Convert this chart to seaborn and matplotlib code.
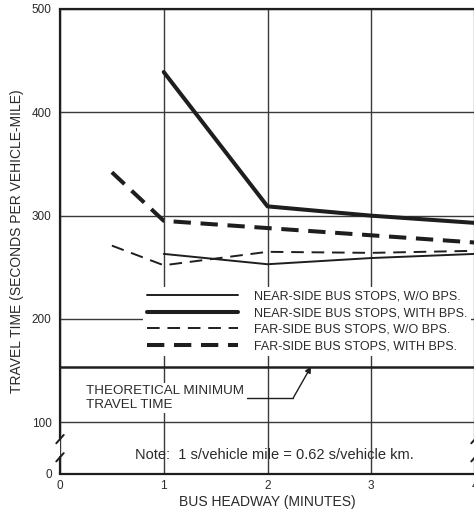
import numpy as np
import pandas as pd
import matplotlib
matplotlib.use("Agg")
import matplotlib.pyplot as plt
import seaborn as sns

# ---- data ----
near_wo_x = [1, 2, 3, 4]
near_wo_y = [263, 253, 259, 263]
near_with_x = [1, 2, 3, 4]
near_with_y = [439, 309, 300, 293]
far_wo_x = [0.5, 1, 2, 3, 4]
far_wo_y = [271, 252, 265, 264, 266]
far_with_x = [0.5, 1, 2, 3, 4]
far_with_y = [342, 295, 288, 281, 274]
theoretical_min = 154

labels = ["NEAR-SIDE BUS STOPS, W/O BPS.",
          "NEAR-SIDE BUS STOPS, WITH BPS.",
          "FAR-SIDE BUS STOPS, W/O BPS.",
          "FAR-SIDE BUS STOPS, WITH BPS."]
x_ticks = [0, 1, 2, 3, 4]
y_ticks = [0, 100, 200, 300, 400, 500]

sns.set_style("white")
plt.rcParams['font.family'] = ['Liberation Sans', 'DejaVu Sans']
INK = '#1e1e1e'
TXT = '#2a2a2a'

fig = plt.figure(figsize=(4.74, 5.13), dpi=100)
W, H = 474, 513
ax = fig.add_axes([60 / W, 1 - 474 / H, (475 - 60) / W, (474 - 9) / H])


def fwd(y):
    y = np.asarray(y, dtype=float)
    return np.where(y >= 100, y, 50 + 0.5 * y)


def inv(u):
    u = np.asarray(u, dtype=float)
    return np.where(u >= 100, u, (u - 50) * 2.0)


ax.set_yscale('function', functions=(fwd, inv))

series = [
    (near_wo_x, near_wo_y, dict(lw=1.4, linestyle='-')),
    (near_with_x, near_with_y, dict(lw=2.9, linestyle='-')),
    (far_wo_x, far_wo_y, dict(lw=1.4, linestyle=(0, (6.5, 4.0)))),
    (far_with_x, far_with_y, dict(lw=2.9, linestyle=(0, (4.3, 2.4)))),
]
for (xs, ys, st), lab in zip(series, labels):
    df = pd.DataFrame({"x": xs, "y": ys})
    sns.lineplot(data=df, x="x", y="y", ax=ax, color=INK, errorbar=None,
                 label=lab, zorder=3, **st)
handles = ax.get_lines()[:4]

ax.axhline(theoretical_min, color=INK, lw=1.8, zorder=2)

ax.set_xlim(0, 4)
ax.set_ylim(0, 500)
ax.set_xticks(x_ticks)
ax.set_yticks(y_ticks)
ax.set_xticklabels([str(t) for t in x_ticks])
ax.set_yticklabels([str(t) for t in y_ticks])
ax.minorticks_off()
ax.grid(True, color='#3a3a3a', lw=1.0, zorder=1)
ax.tick_params(length=0, labelsize=8.5, labelcolor=TXT)
ax.tick_params(axis='y', pad=6)
ax.tick_params(axis='x', pad=4.5)

ax.set_xlabel("BUS HEADWAY (MINUTES)", fontsize=10, color=TXT, labelpad=2)
ax.set_ylabel("TRAVEL TIME (SECONDS PER VEHICLE-MILE)", fontsize=10,
              color=TXT, labelpad=5.5)

# spines: draw left/right manually with a break
for s in ['left', 'right']:
    ax.spines[s].set_visible(False)
for s in ['top', 'bottom']:
    ax.spines[s].set_color(INK)
    ax.spines[s].set_linewidth(1.6)

lo, hi = 0.036, 0.075
for xs in (0.0, 1.0):
    ax.plot([xs, xs], [0, lo], transform=ax.transAxes, color=INK, lw=1.6,
            clip_on=False, zorder=4)
    ax.plot([xs, xs], [hi, 1], transform=ax.transAxes, color=INK, lw=1.6,
            clip_on=False, zorder=4)
    for yb in (lo, hi):
        ax.plot([xs - 0.009, xs + 0.009], [yb - 0.009, yb + 0.009],
                transform=ax.transAxes, color=INK, lw=1.4, clip_on=False,
                zorder=4)

leg = ax.legend(handles=handles, labels=labels, loc='upper left',
                bbox_to_anchor=(143 / W, 1 - 287 / H),
                bbox_transform=fig.transFigure, fontsize=9,
                handlelength=7.3, handletextpad=1.3, labelspacing=0.36,
                borderpad=0.3, borderaxespad=0, frameon=True,
                facecolor='white', edgecolor='none', framealpha=1.0,
                fancybox=False)
for t in leg.get_texts():
    t.set_color(TXT)
leg.set_zorder(5)

# annotation for theoretical minimum
ann_x, ann_y = 0.25, 136
ax.text(ann_x, ann_y, "THEORETICAL MINIMUM\nTRAVEL TIME", fontsize=9.6,
        color=TXT, va='top', ha='left', linespacing=1.2, zorder=5,
        bbox=dict(facecolor='white', edgecolor='none', pad=1.5))
lead_x0, lead_x1, lead_y = 1.8, 2.25, 124
ax.plot([lead_x0, lead_x1], [lead_y, lead_y], color=INK, lw=1.0, zorder=5)
ax.annotate("", xy=(2.42, theoretical_min), xytext=(lead_x1, lead_y),
            arrowprops=dict(arrowstyle='-|>', color=INK, lw=1.0,
                            mutation_scale=9, shrinkA=0, shrinkB=0),
            zorder=5)

ax.text(0.725, 37, "Note:  1 s/vehicle mile = 0.62 s/vehicle km.",
        fontsize=10.5, color=TXT, va='center', ha='left', zorder=5)

fig.savefig("out.png", dpi=100)
